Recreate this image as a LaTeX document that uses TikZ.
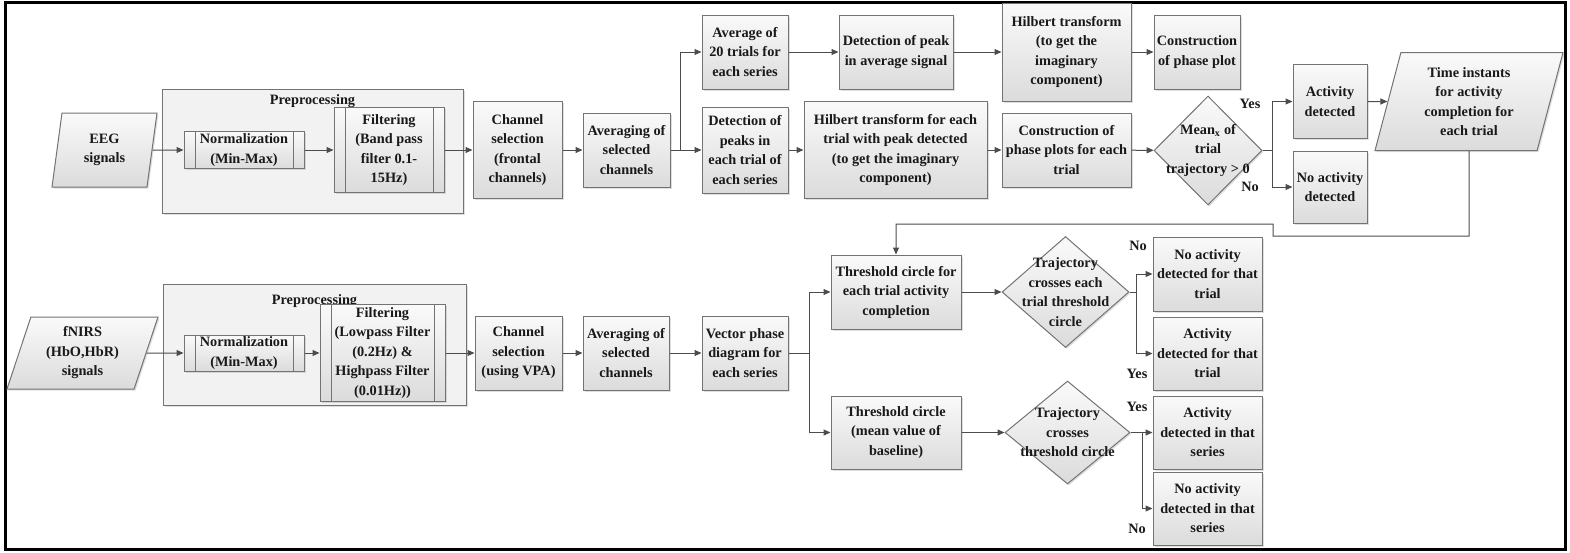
\documentclass[tikz,border=0pt]{standalone}
\usepackage{fontspec}
\setmainfont{Liberation Serif}
\usetikzlibrary{arrows.meta,positioning,shapes.geometric,shadows,calc}

\begin{document}
\begin{tikzpicture}[
    x=1pt, y=-1pt,
    font=\bfseries\fontsize{14.3}{19.5}\selectfont,
    box/.style={draw=black!55, line width=1pt, top color=black!2, bottom color=black!#1,
        drop shadow={shadow xshift=1.5pt, shadow yshift=-1.5pt, opacity=0.25},
        inner sep=1pt, align=center, text=black!90},
    box/.default=14,
    wh/.style 2 args={minimum width=#1pt, minimum height=#2pt},
    subproc/.style={box, path picture={
        \draw[black!55, line width=1pt]
          ([xshift=11pt]path picture bounding box.north west) -- ([xshift=11pt]path picture bounding box.south west)
          ([xshift=-11pt]path picture bounding box.north east) -- ([xshift=-11pt]path picture bounding box.south east);}},
    io/.style 2 args={box, trapezium, trapezium left angle=#1, trapezium right angle=#2,
        trapezium stretches body, inner sep=0pt},
    dec/.style={box, diamond, inner sep=0pt},
    group/.style={draw=black!55, line width=1pt, fill=black!5,
        drop shadow={shadow xshift=1.5pt, shadow yshift=-1.5pt, opacity=0.25}},
    lbl/.style={inner sep=1pt, align=center, text=black!90},
    arr/.style={-{Triangle[length=7pt, width=6pt]}, line width=1pt, black!70},
]
\useasboundingbox (0,0) rectangle (1570,552);
\draw[line width=3pt] (5.5,2) rectangle (1565.5,549);

% EEG chain
\node[io={72.7}{107.3}, wh={105}{74}] (eeg) at (104.5,150) {EEG\\signals};
\node[group, wh={301}{124}] (pre1) at (312.5,151) {};
\node[lbl, below=4.5pt of pre1.north] (pre1t) {Preprocessing};
\node[subproc, wh={120}{37}] (nrm1) at (244,150) {Normalization\\(Min-Max)};
\node[subproc, wh={110}{85}] (flt1) at (389,150) {Filtering\\(Band pass\\filter 0.1-\\15Hz)};
\node[box, wh={89}{97}] (chsel1) at (517.5,150) {Channel\\selection\\(frontal\\channels)};
\node[box, wh={87}{74}] (avgch1) at (626.5,150) {Averaging of\\selected\\channels};
% upper branch
\node[box, wh={86}{74}] (avgtr) at (745,52) {Average of\\20 trials for\\each series};
\node[box, wh={114}{74}] (pkavg) at (896,52) {Detection of peak\\in average signal};
\node[box, wh={129}{98}] (hilb) at (1066.5,52) {Hilbert transform\\(to get the\\imaginary\\component)};
\node[box, wh={86}{74}] (phplot) at (1197,52) {Construction\\of phase plot};
% lower branch
\node[box, wh={86}{86}] (pktr) at (745,150) {Detection of\\peaks in\\each trial of\\each series};
\node[box, wh={183}{97}] (hilbtr) at (895.5,150) {Hilbert transform for each\\trial with peak detected\\(to get the imaginary\\component)};
\node[box, wh={129}{74}] (phtr) at (1066.5,150) {Construction of\\phase plots for each\\trial};
\node[dec, wh={108}{109}, label={[lbl]center:Mean\textsubscript{x} of\\trial\\trajectory > 0}] (meanx) at (1208,150.5) {};
\node[box, wh={74}{74}] (act) at (1330,101.5) {Activity\\detected};
\node[box, wh={74}{72}] (noact) at (1330,187) {No activity\\detected};
\node[io={69.3}{110.7}, wh={188}{98}] (tinst) at (1469,101.5) {Time instants\\for activity\\completion for\\each trial};
\node[lbl] (yes1) at (1250,104) {Yes};
\node[lbl] (no1) at (1250,187) {No};

% fNIRS chain
\node[io={65.4}{114.6}, wh={151}{72}] (fnirs) at (82.5,353) {fNIRS\\(HbO,HbR)\\signals};
\node[group, wh={303}{121}] (pre2) at (314.5,345) {};
\node[lbl, below=9.5pt of pre2.north] (pre2t) {Preprocessing};
\node[subproc, wh={120}{36}] (nrm2) at (244,353) {Normalization\\(Min-Max)};
\node[subproc, wh={125}{97}] (flt2) at (382.5,353) {Filtering\\(Lowpass Filter\\(0.2Hz) \&\\Highpass Filter\\(0.01Hz))};
\node[box, wh={87}{74}] (chsel2) at (518.5,353) {Channel\\selection\\(using VPA)};
\node[box, wh={86}{74}] (avgch2) at (626,353) {Averaging of\\selected\\channels};
\node[box, wh={86}{74}] (vecph) at (745,353) {Vector phase\\diagram for\\each series};
\node[box, wh={130}{74}] (thtr) at (896,292) {Threshold circle for\\each trial activity\\completion};
\node[box, wh={130}{73}] (thbl) at (896,432.5) {Threshold circle\\(mean value of\\baseline)};
\node[dec, wh={127}{111}, label={[lbl]center:Trajectory\\crosses each\\trial threshold\\circle}] (crtr) at (1065.5,292) {};
\node[dec, wh={125}{103}, label={[lbl]center:Trajectory\\crosses\\threshold circle}] (crbl) at (1067.5,432.5) {};
\node[box, wh={109}{74}] (notr) at (1207.5,274) {No activity\\detected for that\\trial};
\node[box, wh={109}{73}] (actr) at (1207.5,353.5) {Activity\\detected for that\\trial};
\node[box, wh={109}{73}] (acser) at (1207.5,432.5) {Activity\\detected in that\\series};
\node[box, wh={109}{73}] (noser) at (1207.5,508.5) {No activity\\detected in that\\series};
\node[lbl] (no2) at (1138,246) {No};
\node[lbl] (yes2) at (1137,374) {Yes};
\node[lbl] (yes3) at (1137,407) {Yes};
\node[lbl] (no3) at (1137,529) {No};

% branch points
\coordinate (avbr) at (680,150);
\coordinate (mxbr) at (1272,150.5);
\coordinate (fb1) at (1469,236);
\coordinate (fb2) at (1273,224);
\coordinate (vcbr) at (809,353);
\coordinate (trbr) at (1136,292);
\coordinate (blbr) at (1142,432.5);

% Arrows
\draw[arr] (eeg.east) -- (nrm1.west);
\draw[arr] (nrm1) -- (flt1);
\draw[arr] (flt1) -- (chsel1);
\draw[arr] (chsel1) -- (avgch1);
\draw[arr] (avgch1) -- (pktr);
\draw[arr] (avbr) |- (avgtr.west);
\draw[arr] (avgtr) -- (pkavg);
\draw[arr] (pkavg) -- (hilb);
\draw[arr] (hilb) -- (phplot);
\draw[arr] (pktr) -- (hilbtr);
\draw[arr] (hilbtr) -- (phtr);
\draw[arr] (phtr) -- (meanx);
\draw[arr] (meanx.east) -- (mxbr) |- (act.west);
\draw[arr] (mxbr) |- (noact.west);
\draw[arr] (act.east) -- (tinst.west);
\draw[arr] (tinst.south) -- (fb1) -| (fb2) -| (thtr.north);
\draw[arr] (fnirs.east) -- (nrm2.west);
\draw[arr] (nrm2) -- (flt2);
\draw[arr] (flt2) -- (chsel2);
\draw[arr] (chsel2) -- (avgch2);
\draw[arr] (avgch2) -- (vecph);
\draw[arr] (vecph.east) -- (vcbr) |- (thtr.west);
\draw[arr] (vcbr) |- (thbl.west);
\draw[arr] (thtr) -- (crtr);
\draw[arr] (thbl) -- (crbl);
\draw[arr] (crtr.east) -- (trbr) |- (notr.west);
\draw[arr] (trbr) |- (actr.west);
\draw[arr] (crbl.east) -- (acser.west);
\draw[arr] (blbr) |- (noser.west);
\end{tikzpicture}
\end{document}
